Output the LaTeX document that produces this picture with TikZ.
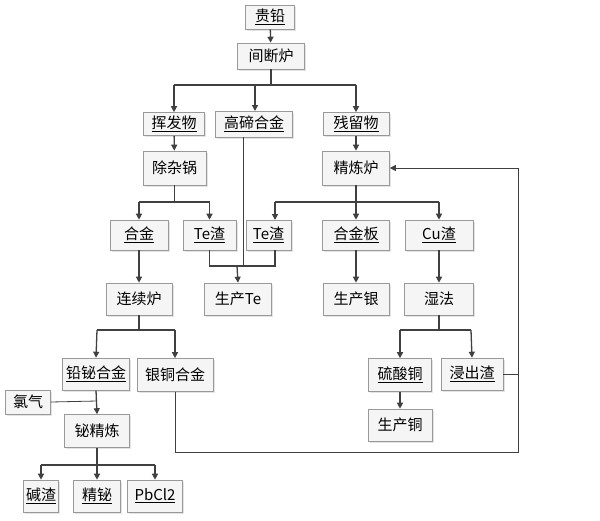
\documentclass[tikz,border=0pt]{standalone}
\usepackage{fontspec}
\setmainfont{Noto Sans CJK SC}
\usetikzlibrary{arrows.meta,shadows}
\begin{document}
\begin{tikzpicture}[x=1pt,y=-1pt,
  box/.style={draw=gray!80,fill=gray!8,line width=0.6pt,inner sep=0pt,
    drop shadow={shadow xshift=1.5pt,shadow yshift=-1.5pt,fill=gray!35,opacity=0.6},
    font=\fontsize{15}{17}\selectfont},
  ln/.style={draw=black!75,line width=1.3pt},
  ar/.style={ln,-{Triangle[length=6pt,width=6pt]}}]
\useasboundingbox[fill=white] (0,0) rectangle (600,520);
\newcommand{\ul}[1]{\underline{#1}}
\node[box,minimum width=49pt,minimum height=24pt] (gq) at (270,17) {\ul{贵铅}};
\node[box,minimum width=67pt,minimum height=26pt] (jd) at (271,56) {间断炉};
\node[box,minimum width=61pt,minimum height=23pt] (hf) at (174,124) {\ul{挥发物}};
\node[box,minimum width=77pt,minimum height=26pt] (gd) at (254,124) {\ul{高碲合金}};
\node[box,minimum width=66pt,minimum height=23pt] (cl) at (356,124) {\ul{残留物}};
\node[box,minimum width=63pt,minimum height=34pt] (cz) at (174.5,168) {除杂锅};
\node[box,minimum width=67pt,minimum height=34pt] (jl) at (356,168) {精炼炉};
\node[box,minimum width=58pt,minimum height=30pt] (hj) at (139,235) {\ul{合金}};
\node[box,minimum width=53pt,minimum height=30pt] (te1) at (209.5,235) {\ul{Te渣}};
\node[box,minimum width=45pt,minimum height=30pt] (te2) at (268.5,235) {\ul{Te渣}};
\node[box,minimum width=67pt,minimum height=30pt] (hjb) at (356,235) {\ul{合金板}};
\node[box,minimum width=68pt,minimum height=30pt] (cu) at (439,235) {\ul{Cu渣}};
\node[box,minimum width=67pt,minimum height=32pt] (scte) at (238,299) {生产Te};
\node[box,minimum width=66pt,minimum height=32pt] (scy) at (356,299) {生产银};
\node[box,minimum width=69pt,minimum height=32pt] (sf) at (439,299) {湿法};
\node[box,minimum width=66pt,minimum height=32pt] (lx) at (139,299) {连续炉};
\node[box,minimum width=67pt,minimum height=32pt] (qb) at (96,374) {\ul{铅铋合金}};
\node[box,minimum width=76pt,minimum height=33pt] (yt) at (175,375) {银铜合金};
\node[box,minimum width=63pt,minimum height=33pt] (lst) at (400,375) {\ul{硫酸铜}};
\node[box,minimum width=62pt,minimum height=32pt] (jc) at (472,374) {\ul{浸出渣}};
\node[box,minimum width=64pt,minimum height=32pt] (sct) at (400,425) {生产铜};
\node[box,minimum width=45pt,minimum height=24pt] (lq) at (28,402) {氯气};
\node[box,minimum width=65pt,minimum height=33pt] (bj) at (97,431) {铋精炼};
\node[box,minimum width=35pt,minimum height=32pt] (jz) at (41,496) {\ul{碱渣}};
\node[box,minimum width=47pt,minimum height=32pt] (jb) at (97,496) {\ul{精铋}};
\node[box,minimum width=55pt,minimum height=32pt] (pb) at (155,496) {\ul{PbCl2}};
% connectors
\draw[ar] (gq) -- (jd);
\draw[ln] (jd.south) -- (271,85);
\draw[ln] (174,85) -- (356,85);
\draw[ar] (174,85) -- (hf.north);
\draw[ar] (255,85) -- (255,111);
\draw[ar] (356,85) -- (cl.north);
\draw[ar] (hf) -- (cz);
\draw[ar] (cl) -- (jl);
\draw[ln] (cz.south) -- (174.5,202);
\draw[ln] (139,202) -- (209.5,202);
\draw[ar] (139,202) -- (hj.north);
\draw[ar] (209.5,202) -- (te1.north);
\draw[ln] (jl.south) -- (356,202);
\draw[ln] (275,202) -- (439,202);
\draw[ar] (275,202) -- (275,220);
\draw[ar] (356,202) -- (hjb.north);
\draw[ar] (439,202) -- (cu.north);
\draw[ln,line width=0.8pt] (243,137) -- (243,266);
\draw[ln] (209.5,250) -- (209.5,266) -- (275,266) -- (275,250);
\draw[ar] (237,266) -- (scte.north);
\draw[ar] (hjb) -- (scy);
\draw[ar] (cu) -- (sf);
\draw[ar] (hj) -- (lx);
\draw[ln] (lx.south) -- (139,330);
\draw[ln] (97,330) -- (175,330);
\draw[ar] (97,330) -- (qb.north);
\draw[ar] (175,330) -- (yt.north);
\draw[ln] (sf.south) -- (439,330);
\draw[ln] (400,330) -- (471,330);
\draw[ar] (400,330) -- (lst.north);
\draw[ar] (471,330) -- (jc.north);
\draw[ar] (lst) -- (sct);
\draw[ln,line width=0.8pt] (jc.east) -- (518,374);
\draw[ln,line width=0.8pt] (yt.south) -- (175,452) -- (518,452) -- (518,168);
\draw[ar,line width=0.8pt] (518,168) -- (jl.east);
\draw[ln,line width=0.8pt] (lq.east) -- (97,401);
\draw[ar] (qb.south) -- (bj.north);
\draw[ln] (bj.south) -- (97,465);
\draw[ln] (41,465) -- (155,465);
\draw[ar] (41,465) -- (jz.north);
\draw[ar] (97,465) -- (jb.north);
\draw[ar] (155,465) -- (pb.north);
\end{tikzpicture}
\end{document}
